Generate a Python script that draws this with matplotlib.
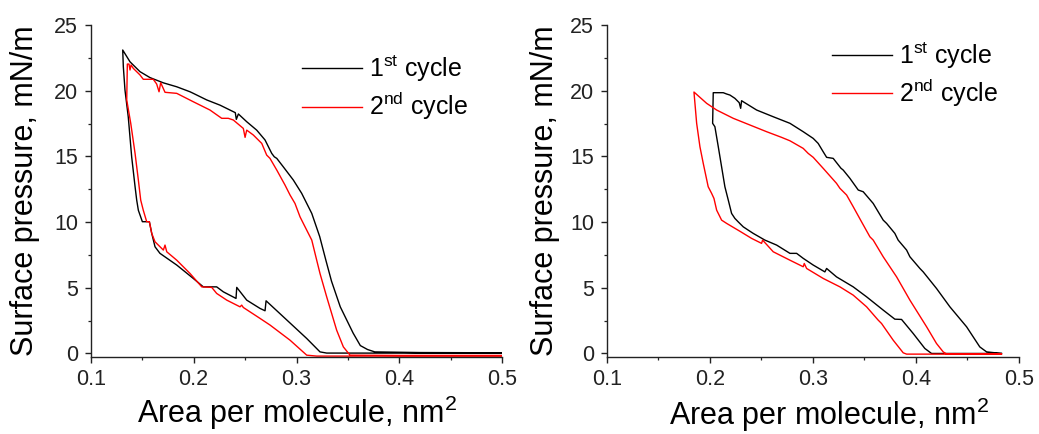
import matplotlib
matplotlib.use("Agg")
import matplotlib.pyplot as plt
from matplotlib.ticker import MultipleLocator, FormatStrFormatter
from matplotlib.lines import Line2D

plt.rcParams['font.family'] = ['Liberation Sans', 'DejaVu Sans']
plt.rcParams['mathtext.default'] = 'regular'

# ---- left isotherm: compression (right->left) then expansion (left->right)
left_c1_x = [0.500, 0.420, 0.376, 0.369, 0.362, 0.355, 0.3425, 0.3340, 0.3285, 0.3225,
             0.3148, 0.3050, 0.2969, 0.2872, 0.2808, 0.2784, 0.2759, 0.2694, 0.2613, 0.2516,
             0.2435, 0.2415, 0.2405, 0.2257, 0.2127, 0.1997, 0.1965, 0.1836, 0.1706, 0.1576,
             0.1479, 0.1382, 0.1311,
             0.1317, 0.1333, 0.1365, 0.1398, 0.1431, 0.1447, 0.1463, 0.1502, 0.1570, 0.1593,
             0.1625, 0.1673, 0.1836, 0.1997, 0.2094, 0.2224, 0.2289, 0.2412, 0.2419, 0.2516,
             0.2645, 0.2694, 0.2704, 0.2872, 0.3099, 0.3228, 0.3293, 0.500]
left_c1_y = [0.05, 0.07, 0.12, 0.30, 0.60, 1.55, 3.55, 5.50, 7.10, 8.90,
             10.66, 12.19, 13.20, 14.20, 14.85, 14.97, 15.23, 16.25, 17.00, 17.64,
             18.23, 17.82, 18.33, 18.90, 19.30, 19.80, 19.92, 20.30, 20.60, 21.00,
             21.45, 22.20, 23.10,
             21.83, 20.05, 18.00, 14.97, 12.70, 11.67, 10.90, 10.03, 10.03, 9.14,
             8.12, 7.62, 6.73, 5.71, 5.07, 5.07, 4.69, 4.19, 5.03, 4.06,
             3.43, 3.25, 4.01, 2.79, 1.14, 0.12, 0.03, 0.02]

left_c2_x = [0.500, 0.400, 0.352, 0.3455, 0.3390, 0.3293, 0.3228, 0.3196, 0.3148, 0.3066,
             0.3034, 0.2985, 0.2937, 0.2888, 0.2808, 0.2742, 0.2710, 0.2662, 0.2580, 0.2516,
             0.2500, 0.2483, 0.2386, 0.2337, 0.2273, 0.2159, 0.1997, 0.1836, 0.1722, 0.1680,
             0.1664, 0.1641, 0.1608, 0.1511, 0.1479, 0.1414, 0.1392, 0.1382, 0.1372, 0.1356,
             0.1350, 0.1389, 0.1431, 0.1463, 0.1486, 0.1511, 0.1544, 0.1570, 0.1593, 0.1625,
             0.1706, 0.1722, 0.1739, 0.1836, 0.1965, 0.2079, 0.2176, 0.2224, 0.2322, 0.2451,
             0.2467, 0.2483, 0.2645, 0.2743, 0.2937, 0.3099, 0.3196, 0.500]
left_c2_y = [-0.15, -0.15, -0.13, 0.50, 1.77, 4.31, 6.09, 7.10, 8.63, 9.90,
             10.40, 11.42, 12.06, 12.82, 13.96, 14.85, 15.10, 15.99, 16.63, 17.00,
             16.45, 17.13, 17.77, 17.90, 17.90, 18.53, 19.16, 19.80, 19.88, 20.61,
             19.92, 20.51, 20.87, 20.87, 21.20, 21.70, 21.96, 21.58, 22.03, 22.03,
             19.30, 17.52, 15.23, 13.20, 11.67, 10.90, 10.03, 10.03, 9.14, 8.50,
             7.87, 8.25, 7.74, 7.10, 6.09, 5.07, 5.03, 4.57, 4.06, 3.55,
             3.68, 3.50, 2.67, 2.16, 1.01, -0.13, -0.20, -0.20]

# ---- right isotherm
right_c1_x = [0.483, 0.4686, 0.4620, 0.4492, 0.4330, 0.4200, 0.4071, 0.4039, 0.3942, 0.3910,
              0.3828, 0.3796, 0.3716, 0.3683, 0.3586, 0.3489, 0.3441, 0.3360, 0.3295, 0.3273,
              0.3198, 0.3134, 0.3101, 0.3052, 0.3004, 0.2907, 0.2778, 0.2616, 0.2455, 0.2325,
              0.2309, 0.2300, 0.2286, 0.2244, 0.2196, 0.2164, 0.2131, 0.2034,
              0.2028, 0.2050, 0.2083, 0.2115, 0.2147, 0.2180, 0.2212, 0.2244, 0.2276, 0.2325,
              0.2373, 0.2422, 0.2535, 0.2649, 0.2778, 0.2843, 0.2907, 0.3004, 0.3117, 0.3134,
              0.3230, 0.3392, 0.3522, 0.3683, 0.3796, 0.3861, 0.3974, 0.4087, 0.4152, 0.483]
right_c1_y = [0.00, 0.12, 0.50, 2.03, 3.55, 4.95, 6.21, 6.47, 7.36, 7.87,
              8.63, 9.14, 9.90, 10.15, 11.42, 12.31, 12.44, 13.33, 13.96, 14.10,
              14.85, 14.93, 15.35, 15.99, 16.37, 16.88, 17.52, 18.02, 18.53, 19.16,
              19.24, 18.66, 19.09, 19.42, 19.67, 19.75, 19.85, 19.85,
              17.52, 17.26, 15.73, 14.21, 12.69, 11.67, 10.66, 10.28, 10.02, 9.64,
              9.39, 9.14, 8.63, 8.25, 7.62, 7.62, 7.24, 6.73, 6.21, 6.47,
              5.83, 5.07, 4.31, 3.30, 2.61, 2.59, 1.52, 0.38, 0.00, 0.00]

right_c2_x = [0.483, 0.430, 0.4265, 0.4200, 0.4104, 0.3942, 0.3813, 0.3683, 0.3586, 0.3554,
              0.3473, 0.3392, 0.3328, 0.3263, 0.3230, 0.3101, 0.3004, 0.2955, 0.2907, 0.2778,
              0.2697, 0.2552, 0.2390, 0.2228, 0.2067, 0.1970, 0.1847,
              0.1873, 0.1905, 0.1937, 0.1985, 0.2018, 0.2041, 0.2067, 0.2115, 0.2164, 0.2293,
              0.2406, 0.2503, 0.2513, 0.2616, 0.2778, 0.2907, 0.2917, 0.2940, 0.3101, 0.3263,
              0.3392, 0.3522, 0.3634, 0.3667, 0.3780, 0.3877, 0.3910, 0.483]
right_c2_y = [-0.05, -0.05, 0.12, 0.76, 2.03, 4.06, 5.83, 7.36, 8.63, 8.88,
              10.02, 11.17, 12.06, 12.57, 12.95, 14.09, 14.93, 15.23, 15.61, 16.19,
              16.45, 16.88, 17.39, 17.90, 18.53, 19.04, 19.90,
              17.52, 15.73, 14.47, 12.69, 12.19, 11.80, 10.91, 10.15, 9.90, 9.30,
              8.76, 8.38, 8.63, 7.74, 7.10, 6.60, 6.85, 6.47, 5.71, 5.07,
              4.44, 3.55, 2.54, 2.28, 1.01, 0.05, -0.05, -0.05]

cycle_labels = ['1$^{st}$ cycle', '2$^{nd}$ cycle']
cycle_colors = ['black', '#ff0000']
x_label = 'Area per molecule, nm$^{2}$'
y_label = 'Surface pressure, mN/m'

fig = plt.figure(figsize=(10.39, 4.34), dpi=100)
ax_l = fig.add_axes([0.0873, 0.178, 0.3962, 0.7643])
ax_r = fig.add_axes([0.5839, 0.178, 0.3968, 0.7643])

panels = [
    (ax_l, [(left_c1_x, left_c1_y), (left_c2_x, left_c2_y)], (0.513, 0.915), 0.5, -0.112, -0.123),
    (ax_r, [(right_c1_x, right_c1_y), (right_c2_x, right_c2_y)], (0.546, 0.955), 0.539, -0.118, -0.113),
]

for ax, curves, leg_pos, xl_x, xl_y, yl_x in panels:
    for (xs, ys), col in zip(curves, cycle_colors):
        ax.plot(xs, ys, color=col, lw=1.0)
    ax.set_xlim(0.1, 0.5)
    ax.set_ylim(-0.25, 25)
    ax.xaxis.set_major_locator(MultipleLocator(0.1))
    ax.xaxis.set_minor_locator(MultipleLocator(0.05))
    ax.xaxis.set_major_formatter(FormatStrFormatter('%.1f'))
    ax.yaxis.set_major_locator(MultipleLocator(5))
    ax.yaxis.set_minor_locator(MultipleLocator(2.5))
    ax.spines['top'].set_visible(False)
    ax.spines['right'].set_visible(False)
    for s in ('left', 'bottom'):
        ax.spines[s].set_linewidth(1.0)
        ax.spines[s].set_color('#222222')
    ax.tick_params(which='major', direction='out', length=4, width=1.0,
                   labelsize=15.5, colors='#222222', pad=5)
    ax.tick_params(which='minor', direction='out', length=2.3, width=0.9, colors='#222222')
    ax.set_xlabel(x_label, fontsize=22)
    ax.set_ylabel(y_label, fontsize=22)
    ax.xaxis.set_label_coords(xl_x, xl_y)
    ax.yaxis.set_label_coords(yl_x, 0.5)

    handles = [Line2D([], [], color=c, lw=1.0) for c in cycle_colors]
    ax.legend(handles, cycle_labels, loc='upper left', bbox_to_anchor=leg_pos,
              frameon=False, fontsize=18, handlelength=2.4, handletextpad=0.3,
              labelspacing=0.25, borderpad=0, borderaxespad=0)

fig.savefig('out.png', dpi=100)
